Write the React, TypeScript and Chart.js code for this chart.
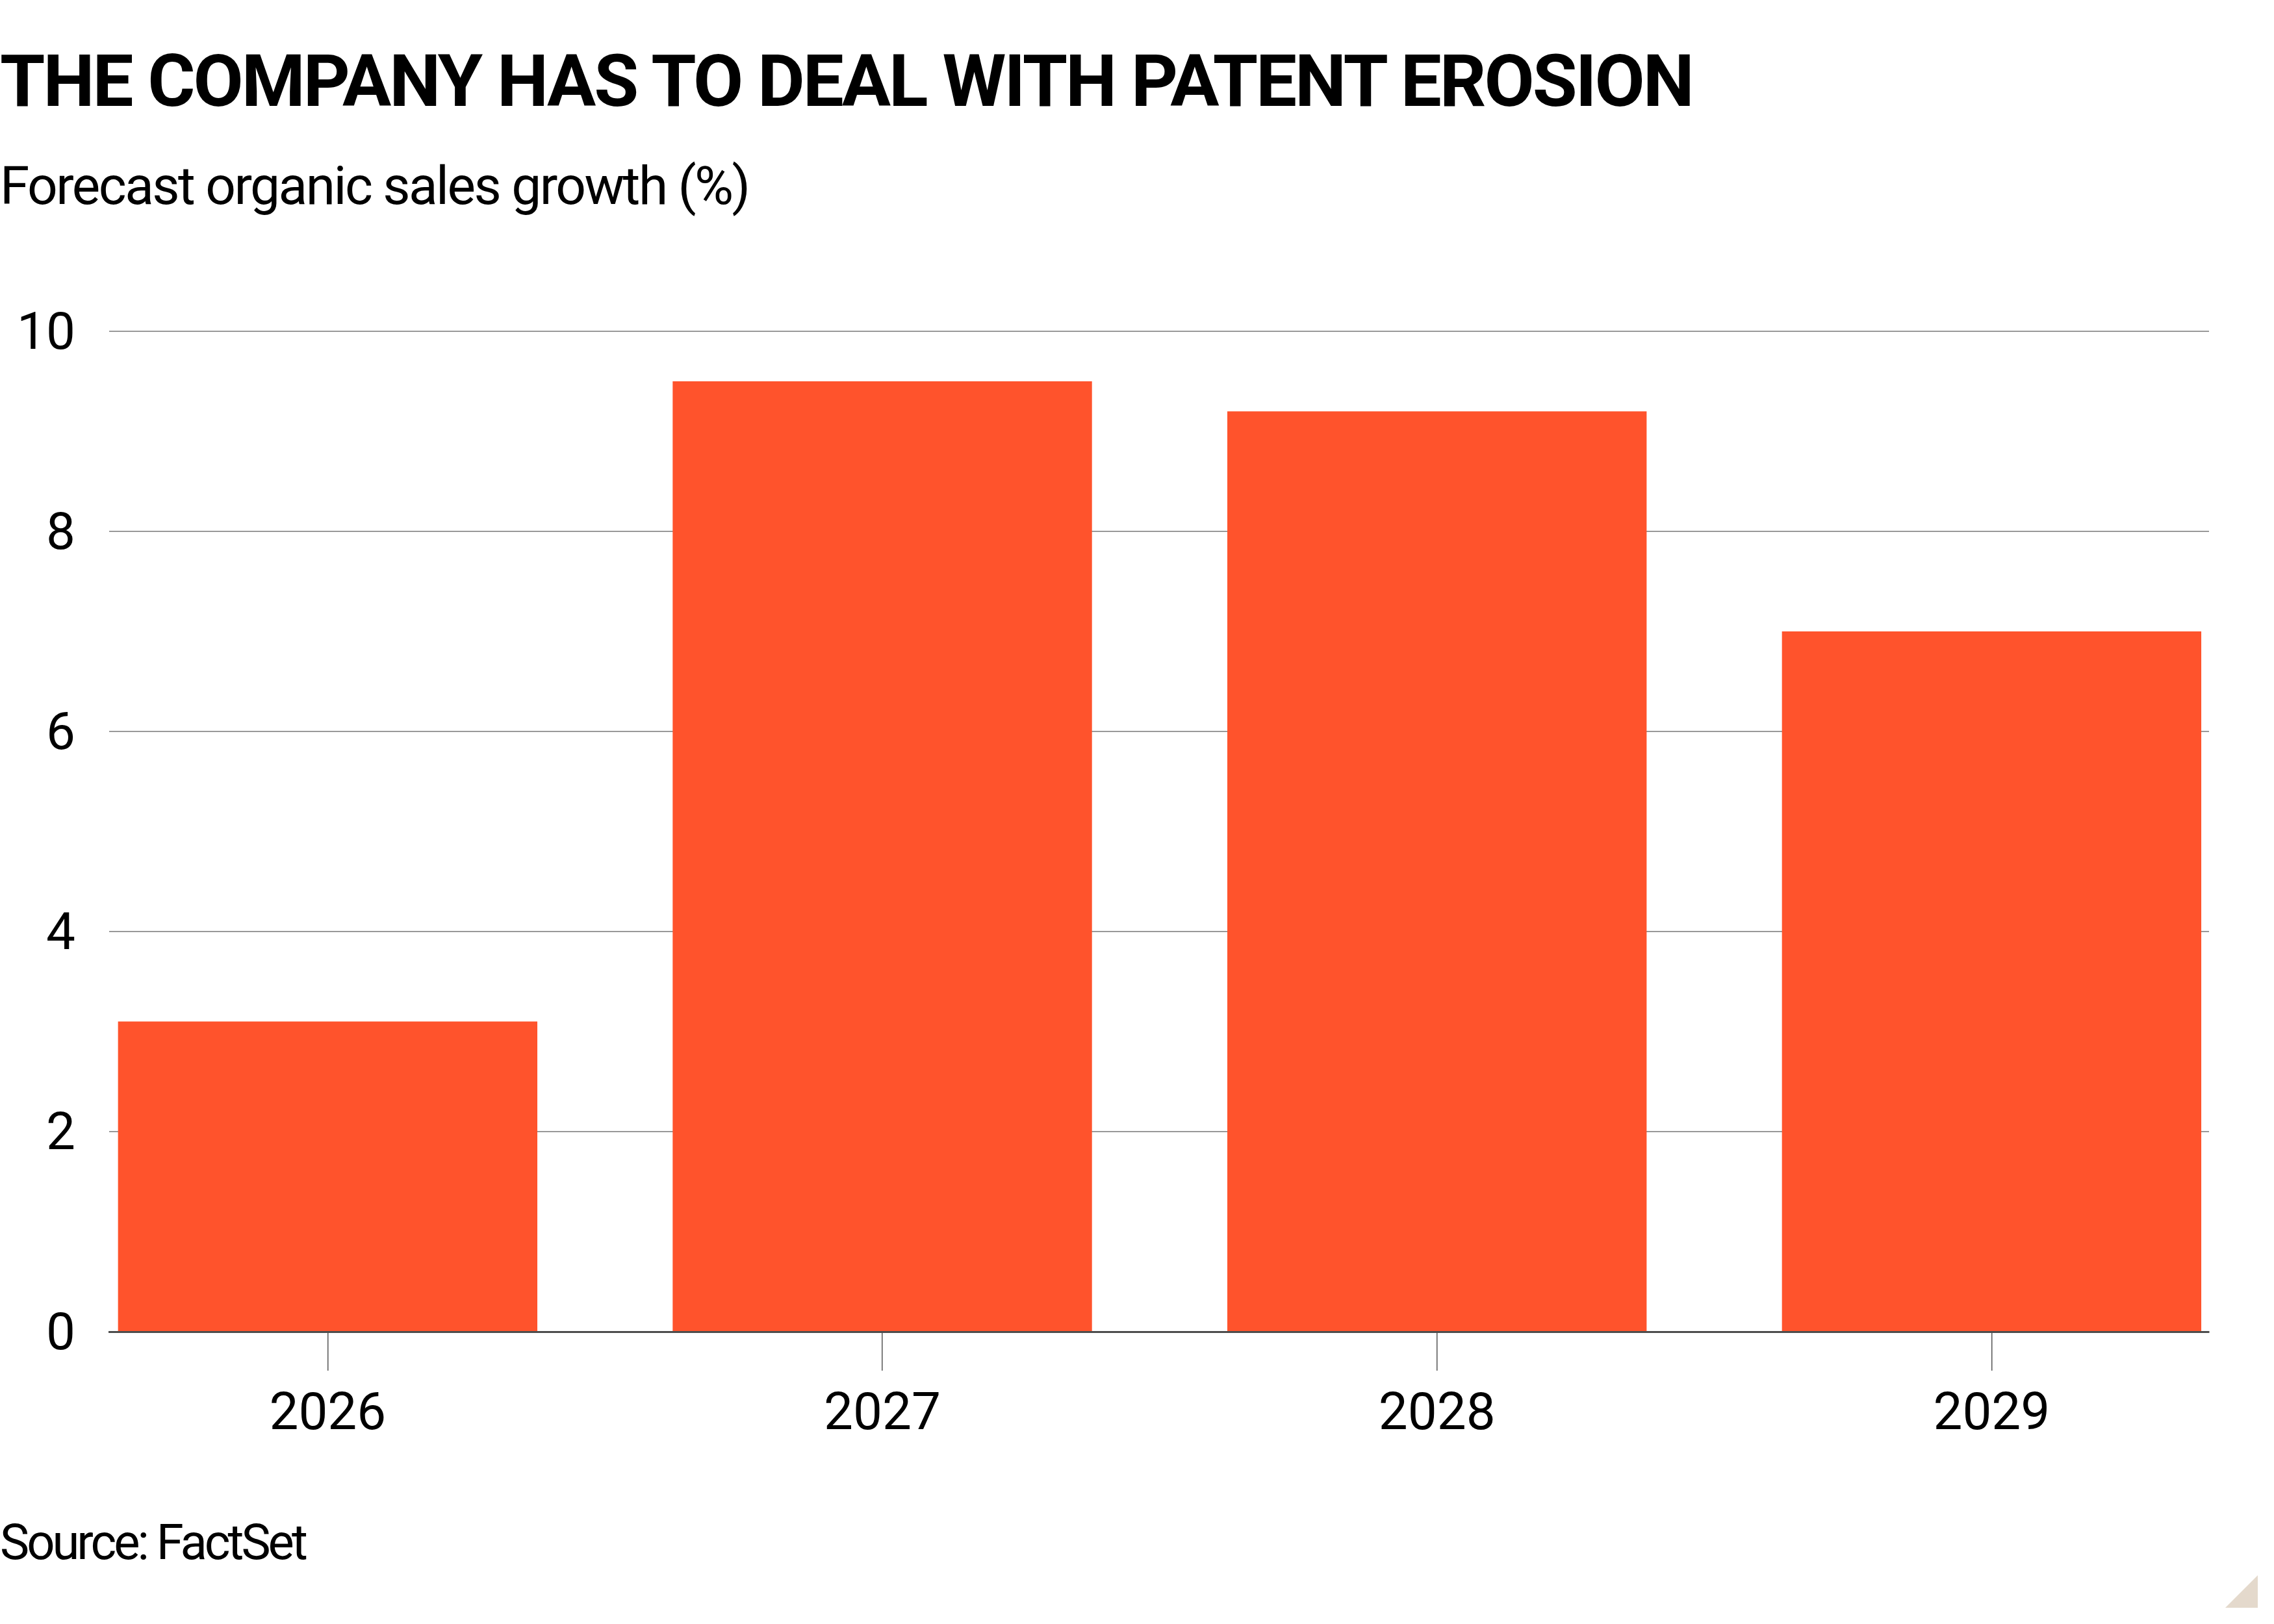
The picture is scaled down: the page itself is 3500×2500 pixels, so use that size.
import { useEffect, useRef } from 'react';
import { Chart, registerables } from 'chart.js';

Chart.register(...registerables);

// chart data
const years = ['2026', '2027', '2028', '2029'];
const growth = [3.1, 9.5, 9.2, 7.0];
const yTicks = [0, 2, 4, 6, 8, 10];

const TITLE = 'THE COMPANY HAS TO DEAL WITH PATENT EROSION';
const SUBTITLE = 'Forecast organic sales growth (%)';
const SOURCE = 'Source: FactSet';

const FONT = 'Roboto, "Liberation Sans", sans-serif';
const BAR_COLOR = '#ff532c';

export default function App() {
  const canvasRef = useRef<HTMLCanvasElement>(null);
  const chartInstance = useRef<Chart | null>(null);

  useEffect(() => {
    if (!canvasRef.current) return;

    if (chartInstance.current) {
      chartInstance.current.destroy();
    }

    const ctx = canvasRef.current.getContext('2d');
    if (!ctx) return;

    chartInstance.current = new Chart(ctx, {
      type: 'bar',
      data: {
        datasets: [
          {
            label: 'Forecast organic sales growth',
            data: growth.map((v, i) => ({ x: i, y: v })),
            backgroundColor: BAR_COLOR,
            borderWidth: 0,
            categoryPercentage: 1,
            barPercentage: 0.756,
          },
        ],
      },
      options: {
        animation: false,
        responsive: true,
        maintainAspectRatio: false,
        // top padding larger than the y labels' own padding so it decides the plot top
        layout: { padding: { top: 120, right: 100, left: 0, bottom: 0 } },
        plugins: {
          legend: { display: false },
          tooltip: { enabled: false },
        },
        scales: {
          x: {
            type: 'linear',
            offset: false,
            min: -0.394,
            max: 3.392,
            afterBuildTicks: (scale: any) => {
              scale.ticks = years.map((_, i) => ({ value: i }));
            },
            afterFit: (scale: any) => {
              scale.height = 170;
            },
            grid: {
              offset: false,
              drawOnChartArea: false,
              drawTicks: true,
              tickLength: 60,
              tickColor: '#555555',
              lineWidth: 1.5,
            },
            border: { display: true, color: '#4d4d4d', width: 3, z: 1 },
            ticks: {
              autoSkip: false,
              maxRotation: 0,
              padding: 22,
              color: '#000000',
              font: { family: FONT, size: 80 },
              callback: (v: any) => years[v] ?? '',
            },
          },
          y: {
            min: 0,
            max: 10,
            afterBuildTicks: (scale: any) => {
              scale.ticks = yTicks.map((v) => ({ value: v }));
            },
            afterFit: (scale: any) => {
              scale.width = 168;
            },
            grid: {
              drawTicks: false,
              lineWidth: 2,
              color: (c: any) => (c.tick && c.tick.value === 0 ? '#4d4d4d' : '#999999'),
            },
            border: { display: false },
            ticks: {
              padding: 52,
              labelOffset: 7,
              color: '#000000',
              font: { family: FONT, size: 80 },
            },
          },
        },
      },
    });

    return () => {
      if (chartInstance.current) {
        chartInstance.current.destroy();
        chartInstance.current = null;
      }
    };
  }, []);

  return (
    <div
      style={{
        position: 'absolute',
        left: 0,
        top: 0,
        width: 3500,
        height: 2500,
        background: '#ffffff',
        overflow: 'hidden',
        fontFamily: FONT,
        color: '#000000',
      }}
    >
      <div
        style={{
          position: 'absolute',
          left: 0,
          top: 69,
          fontSize: 112,
          lineHeight: 1,
          fontWeight: 700,
          letterSpacing: -3,
          whiteSpace: 'nowrap',
        }}
      >
        {TITLE}
      </div>
      <div
        style={{
          position: 'absolute',
          left: 0,
          top: 245,
          fontSize: 82,
          lineHeight: 1,
          letterSpacing: -2.5,
          whiteSpace: 'nowrap',
        }}
      >
        {SUBTITLE}
      </div>
      <div style={{ position: 'absolute', left: 0, top: 390, width: 3500, height: 1830 }}>
        <canvas ref={canvasRef} />
      </div>
      <div
        style={{
          position: 'absolute',
          left: 0,
          top: 2336,
          fontSize: 76,
          lineHeight: 1,
          letterSpacing: -4,
          whiteSpace: 'nowrap',
        }}
      >
        {SOURCE}
      </div>
      <div
        style={{
          position: 'absolute',
          left: 3425,
          top: 2425,
          width: 50,
          height: 50,
          background: '#e4d9cc',
          clipPath: 'polygon(100% 0, 100% 100%, 0 100%)',
        }}
      />
    </div>
  );
}
